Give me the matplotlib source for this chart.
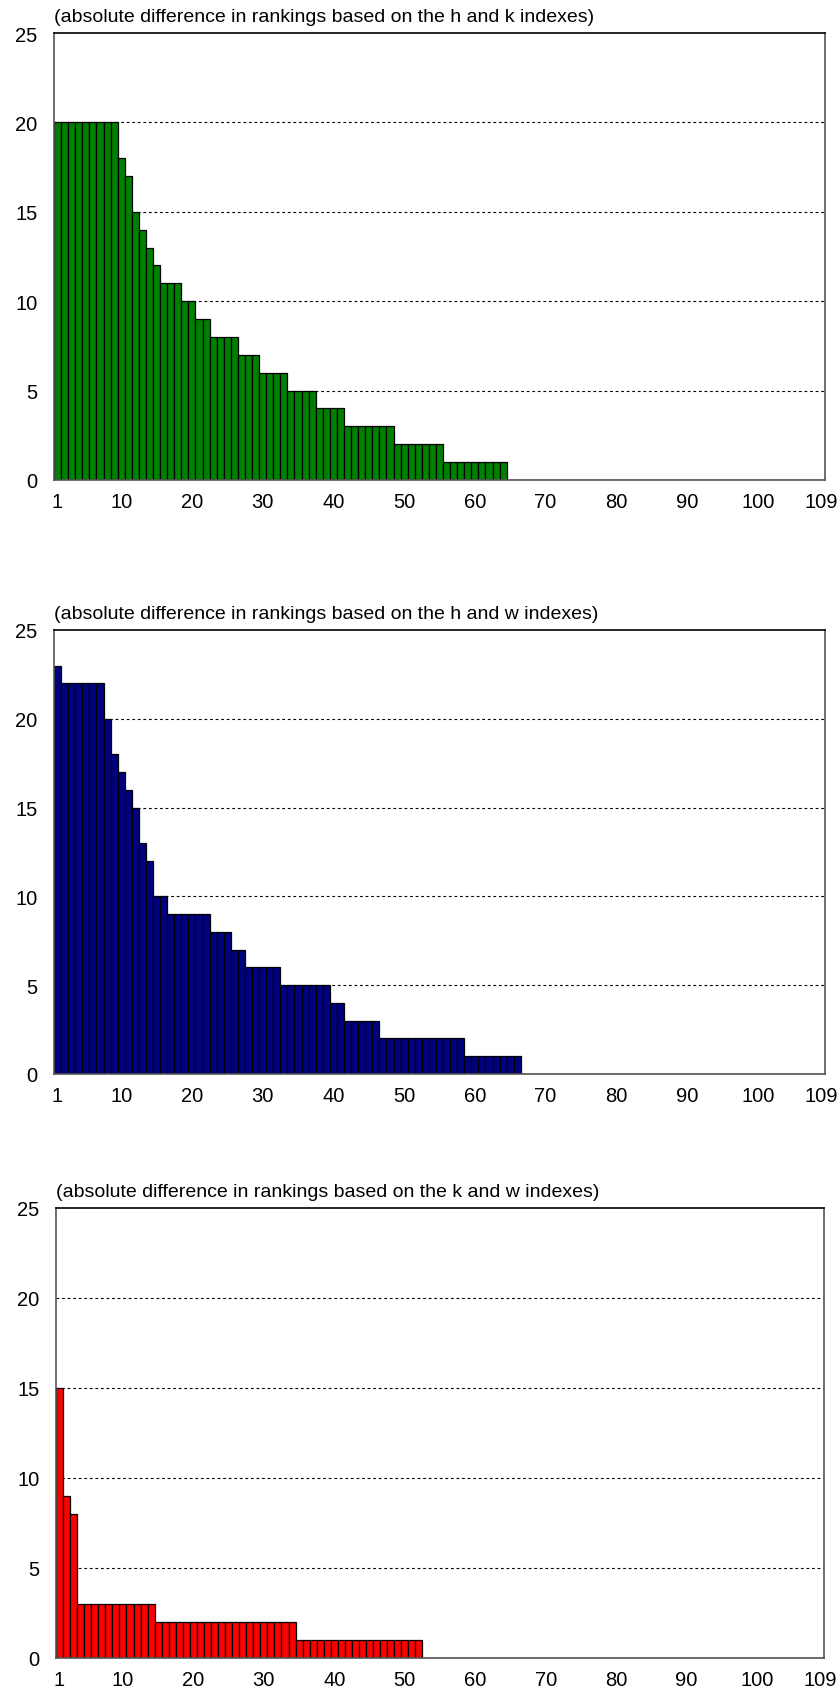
import matplotlib
matplotlib.use("Agg")
import matplotlib.pyplot as plt
import numpy as np

plt.rcParams['font.family'] = ['Liberation Sans', 'DejaVu Sans']

n_ranks = 109

# absolute rank differences, sorted, non-zero part only (rest are 0)
diff_hk = ([20] * 9 + [18, 17, 15, 14, 13, 12] + [11] * 3 + [10] * 2 + [9] * 2
           + [8] * 4 + [7] * 3 + [6] * 4 + [5] * 4 + [4] * 4 + [3] * 7
           + [2] * 7 + [1] * 9)
diff_hw = ([23] + [22] * 6 + [20, 18, 17, 16, 15, 13, 12] + [10] * 2 + [9] * 6
           + [8] * 3 + [7] * 2 + [6] * 5 + [5] * 7 + [4] * 2 + [3] * 5
           + [2] * 12 + [1] * 8)
diff_kw = [15, 9, 8] + [3] * 11 + [2] * 20 + [1] * 18

titles = [
    "(absolute difference in rankings based on the h and k indexes)",
    "(absolute difference in rankings based on the h and w indexes)",
    "(absolute difference in rankings based on the k and w indexes)",
]
colors = ["#008000", "#000080", "#ff0000"]
xticks = [1, 10, 20, 30, 40, 50, 60, 70, 80, 90, 100, 109]
yticks = [0, 5, 10, 15, 20, 25]

W, H = 840, 1699
fig = plt.figure(figsize=(W / 100, H / 100), dpi=100)

# axes boxes in pixels: left, right, top, bottom
boxes = [(54, 825, 34, 481), (54, 825, 631, 1075), (56, 824, 1209, 1659)]

for data, title, color, (l, r, t, b) in zip([diff_hk, diff_hw, diff_kw], titles, colors, boxes):
    ax = fig.add_axes([l / W, 1 - b / H, (r - l) / W, (b - t) / H])
    vals = np.zeros(n_ranks)
    vals[:len(data)] = data
    ranks = np.arange(1, n_ranks + 1)
    ax.bar(ranks, vals, width=1.0, color=color, edgecolor="black", linewidth=0.9, zorder=2)

    ax.set_xlim(0.5, n_ranks + 0.5)
    ax.set_ylim(0, 25)
    ax.set_xticks(xticks)
    ax.set_yticks(yticks)
    ax.tick_params(axis="both", length=0, labelsize=14.5)
    ax.tick_params(axis="y", pad=12)
    ax.tick_params(axis="x", pad=9)
    for y in yticks[1:-1]:
        ax.axhline(y, color="black", linestyle=(0, (2.5, 2.5)), linewidth=0.8, zorder=1)
    for side in ["top", "right", "bottom", "left"]:
        ax.spines[side].set_color("#555555")
        ax.spines[side].set_linewidth(1.2)
    ax.spines["top"].set_color("black")

    fig.text(l / W, 1 - (t - 8) / H, title, fontsize=14, ha="left", va="bottom")

fig.savefig("out.png", dpi=100)
